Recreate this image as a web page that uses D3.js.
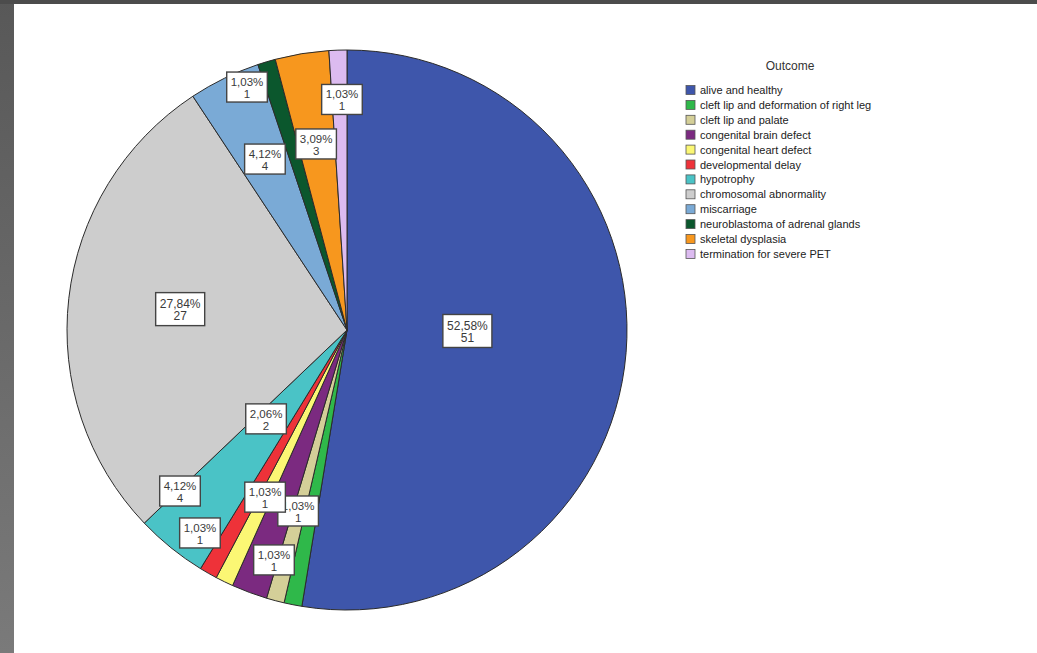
<!DOCTYPE html>
<html>
<head>
<meta charset="utf-8">
<script src="https://cdn.jsdelivr.net/npm/d3@7"></script>
<style>
  body { margin: 0; background: #fff; }
  svg { display: block; font-family: "Liberation Sans", Arial, sans-serif; }
</style>
</head>
<body>
<script>
var w = 1037,
    h = 653;

// Outcome categories and counts (n = 97)
var outcomes = [
  "alive and healthy",
  "cleft lip and deformation of right leg",
  "cleft lip and palate",
  "congenital brain defect",
  "congenital heart defect",
  "developmental delay",
  "hypotrophy",
  "chromosomal abnormality",
  "miscarriage",
  "neuroblastoma of adrenal glands",
  "skeletal dysplasia",
  "termination for severe PET"
];
var counts = [51, 1, 1, 2, 1, 1, 4, 27, 4, 1, 3, 1];

var colors = ["#3e56ab", "#2fb84a", "#d4cf98", "#7b2a80", "#fbf774", "#ee3239",
              "#4ac3c6", "#cdcdcd", "#7aaad6", "#0b572d", "#f7971e", "#dcbbf0"];

// label placement the way SPSS spread them: [radius fraction, angle shift in deg]
var labelPlace = [[0.43, -3.7], [0.673, 3.9], [0.865, 2.7], [0.432, 21.6],
                  [0.668, 0], [0.898, 6.1], [0.831, 6.9], [0.60, 0.3],
                  [0.674, 0.2], [0.935, -5.75], [0.67, -0.2], [0.82, 0.6]];

var total = d3.sum(counts);
var pctFormat = d3.format(".2f");

var svg = d3.select('body')
            .append('svg')
            .attr('width', w)
            .attr('height', h);

// frame around the picture
var defs = svg.append('defs');
var grad = defs.append('linearGradient')
               .attr('id', 'leftband')
               .attr('x1', 0).attr('y1', 0)
               .attr('x2', 0).attr('y2', 1);
grad.append('stop').attr('offset', '0%').attr('stop-color', '#585858');
grad.append('stop').attr('offset', '100%').attr('stop-color', '#7a7a7a');

svg.append('rect').attr('width', w).attr('height', h).attr('fill', '#fff');
svg.append('rect').attr('width', 14).attr('height', h).attr('fill', 'url(#leftband)');
svg.append('rect').attr('width', w).attr('height', 4).attr('fill', '#4c4c4c');

var cx = 347,
    cy = 330,
    radius = 280;

var pie = d3.pie().sort(null).value(function(d) { return d; });
var arcs = pie(counts);

var arc = d3.arc().innerRadius(0).outerRadius(radius);

var g = svg.append('g').attr('transform', 'translate(' + cx + ',' + cy + ')');

g.selectAll('path')
 .data(arcs)
 .enter()
 .append('path')
 .attr('d', arc)
 .style('fill', function(d, i) { return colors[i]; })
 .style('stroke', '#2b2b2b')
 .style('stroke-width', 1);

// value labels
var labels = g.selectAll('g.lab')
              .data(arcs)
              .enter()
              .append('g')
              .attr('class', 'lab')
              .attr('transform', function(d, i) {
                var a = (d.startAngle + d.endAngle) / 2 + labelPlace[i][1] * Math.PI / 180;
                var r = labelPlace[i][0] * radius;
                return 'translate(' + (r * Math.sin(a)) + ',' + (-r * Math.cos(a)) + ')';
              });

labels.each(function(d) {
  var lg = d3.select(this);
  var big = d.value > 20;
  var t = lg.append('text')
            .attr('text-anchor', 'middle')
            .style('font-size', big ? '12px' : '11.5px')
            .style('fill', '#3a3a3a');
  t.append('tspan').attr('x', 0).attr('y', -2)
   .text(pctFormat(d.value / total * 100).replace('.', ',') + '%');
  t.append('tspan').attr('x', 0).attr('y', 10)
   .text(d.value);
  var bw = t.node().getBBox().width + 8;
  var bh = big ? 33 : 30;
  lg.insert('rect', 'text')
    .attr('x', -bw / 2)
    .attr('y', -bh / 2 - 1)
    .attr('width', bw)
    .attr('height', bh)
    .style('fill', '#fff')
    .style('stroke', '#444')
    .style('stroke-width', 1.4);
});

// legend
var legend = svg.append('g').attr('transform', 'translate(686,90)');

legend.append('text')
      .attr('x', 104)
      .attr('y', -20)
      .attr('text-anchor', 'middle')
      .style('font-size', '12px')
      .style('fill', '#333')
      .text('Outcome');

var rows = legend.selectAll('g.row')
                 .data(outcomes)
                 .enter()
                 .append('g')
                 .attr('class', 'row')
                 .attr('transform', function(d, i) { return 'translate(0,' + (i * 14.9) + ')'; });

rows.append('rect')
    .attr('x', 0)
    .attr('y', -4.5)
    .attr('width', 9)
    .attr('height', 9)
    .style('fill', function(d, i) { return colors[i]; })
    .style('stroke', '#555')
    .style('stroke-width', 0.8);

rows.append('text')
    .attr('x', 14)
    .attr('y', 4)
    .style('font-size', '11px')
    .style('fill', '#222')
    .text(function(d) { return d; });
</script>
</body>
</html>
